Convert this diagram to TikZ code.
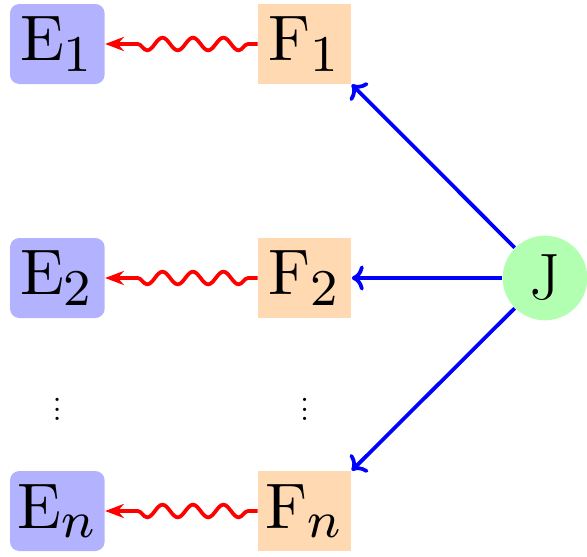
\documentclass[tikz,border=0pt]{standalone}
\usepackage{tikz}
\usetikzlibrary{arrows.meta,positioning,decorations.pathmorphing}
\newcommand{\bigsym}[2]{\scalebox{2.75}{$\mathrm{#1}_{\mbox{\footnotesize$#2$}}$}}

\begin{document}
\begin{tikzpicture}[
    ebox/.style={rectangle, fill=blue!30, rounded corners=4pt, minimum width=1.42cm, minimum height=1.2cm, inner sep=0pt},
    fbox/.style={rectangle, fill=orange!30, minimum width=1.4cm, minimum height=1.2cm, inner sep=0pt},
    jnode/.style={circle, fill=green!30, minimum size=1.27cm, inner sep=0pt, font=\fontsize{28}{34}\selectfont},
    wave/.style={draw=red, ultra thick, -{Stealth[length=8pt,width=6pt]}, decorate, decoration={snake, amplitude=2.7pt, segment length=13pt, pre length=4pt, post length=9pt}},
    link/.style={draw=blue, ultra thick, ->}
]
    % Bounding box
    \useasboundingbox (0,0) rectangle (8.805,-8.34);

    % Left column
    \node[ebox] (e1) at (0.86,-0.66) {\bigsym{E}{1}};
    \node[ebox] (e2) at (0.86,-4.17) {\bigsym{E}{2}};
    \node[ebox] (en) at (0.86,-7.665) {\bigsym{E}{n}};
    \node[font=\Large] (edots) at (0.86,-6.04) {$\vdots$};

    % Middle column
    \node[fbox] (f1) at (4.57,-0.66) {\bigsym{F}{1}};
    \node[fbox] (f2) at (4.57,-4.17) {\bigsym{F}{2}};
    \node[fbox] (fn) at (4.57,-7.665) {\bigsym{F}{n}};
    \node[font=\Large] (fdots) at (4.57,-6.04) {$\vdots$};

    % Source
    \node[jnode] (j) at (8.175,-4.17) {J};

    % Wavy arrows
    \draw[wave] (f1.west) -- (e1.east);
    \draw[wave] (f2.west) -- (e2.east);
    \draw[wave] (fn.west) -- (en.east);

    % Straight arrows
    \draw[link] (j) -- (f1.south east);
    \draw[link] (j) -- (f2.east);
    \draw[link] (j) -- (fn.north east);
\end{tikzpicture}
\end{document}
